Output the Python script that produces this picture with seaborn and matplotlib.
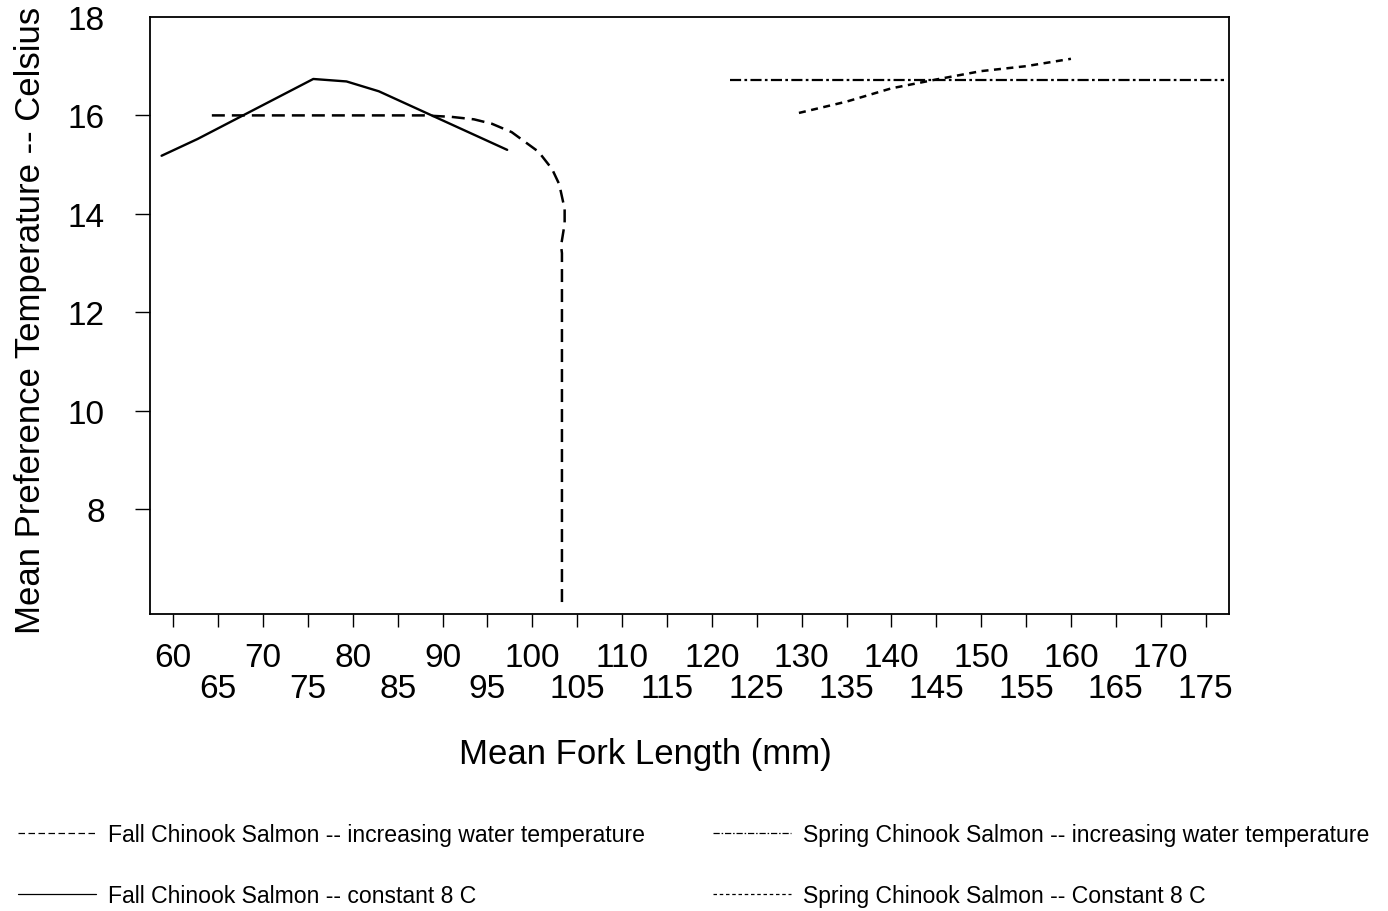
import matplotlib
matplotlib.use("Agg")
import matplotlib.pyplot as plt
import pandas as pd
import seaborn as sns

# Mean fork length (mm) vs. mean preferred temperature (deg C)
fall_inc_len = [64.3, 88.0, 91.0, 93.5, 95.5, 97.7, 100.7, 102.2, 103.0, 103.6, 103.6, 103.2, 103.3, 103.3]
fall_inc_temp = [16.0, 16.0, 15.97, 15.92, 15.83, 15.66, 15.26, 14.91, 14.6, 14.1, 13.8, 13.35, 13.2, 6.1]

fall_const_len = [58.7, 62.7, 75.6, 79.3, 82.9, 97.2]
fall_const_temp = [15.18, 15.52, 16.74, 16.69, 16.49, 15.3]

spring_inc_len = [122.0, 177.0]
spring_inc_temp = [16.72, 16.72]

spring_const_len = [129.7, 135.0, 140.0, 145.0, 150.0, 155.0, 160.0]
spring_const_temp = [16.05, 16.28, 16.55, 16.73, 16.9, 17.0, 17.15]

series_labels = [
    "Fall Chinook Salmon -- increasing water temperature",
    "Fall Chinook Salmon -- constant 8 C",
    "Spring Chinook Salmon -- increasing water temperature",
    "Spring Chinook Salmon -- Constant 8 C",
]

x_major = list(range(60, 171, 10))
x_minor = list(range(65, 176, 10))
y_major = [8, 10, 12, 14, 16]
y_top = [18]

sns.set_theme(style="ticks")
plt.rcParams["font.family"] = ["Liberation Sans", "DejaVu Sans"]
plt.rcParams["text.color"] = "black"
plt.rcParams["axes.labelcolor"] = "black"

fig = plt.figure(figsize=(13.88, 9.12), dpi=100)
ax = fig.add_axes([0.108, 0.3257, 0.7774, 0.6546])

series = [
    (fall_inc_len, fall_inc_temp, dict(lw=1.8, dashes=(5.2, 2.8))),
    (fall_const_len, fall_const_temp, dict(lw=1.7, linestyle="-")),
    (spring_inc_len, spring_inc_temp, dict(lw=1.6, dashes=(5, 1.5, 1.2, 1.5))),
    (spring_const_len, spring_const_temp, dict(lw=1.8, dashes=(2.8, 2.2))),
]

for (xs, ys, style), lab in zip(series, series_labels):
    df = pd.DataFrame({"length": xs, "temp": ys})
    sns.lineplot(data=df, x="length", y="temp", sort=False, estimator=None,
                 color="black", label=lab, legend=False, ax=ax, **style)

ax.set_xlim(57.4, 177.6)
ax.set_ylim(5.87, 18.0)

for sp in ax.spines.values():
    sp.set_visible(True)
    sp.set_color("black")
    sp.set_linewidth(1.3)

ax.set_xticks(x_major, [str(v) for v in x_major])
ax.set_xticks(x_minor, [str(v) for v in x_minor], minor=True)
ax.set_yticks(y_major, [str(v) for v in y_major])
ax.set_yticks(y_top, [str(v) for v in y_top], minor=True)

ax.tick_params(axis="x", which="both", bottom=True, length=9.5, width=1.0,
               direction="out", labelsize=24, colors="black")
ax.tick_params(axis="x", which="major", pad=11)
ax.tick_params(axis="x", which="minor", pad=33)
ax.tick_params(axis="y", which="major", left=True, length=10.5, width=1.0,
               direction="out", labelsize=24, pad=22, colors="black")
ax.tick_params(axis="y", which="minor", left=True, length=0, labelsize=24,
               pad=32.5, colors="black")

ax.set_xlabel("Mean Fork Length (mm)", fontsize=25, color="black")
ax.xaxis.set_label_coords(0.459, -0.2064)
ax.set_ylabel("Mean Preference Temperature -- Celsius", fontsize=25, color="black")
ax.yaxis.set_label_coords(-0.0955, 0.494)

handles = ax.get_lines()
leg = fig.legend(handles, series_labels, loc="upper left",
                 bbox_to_anchor=(18 / 1388, 1 - 824 / 912), ncol=2,
                 frameon=False, fontsize=16.6, handlelength=3.4,
                 handletextpad=0.5, columnspacing=2.95, labelspacing=1.63,
                 borderpad=0, borderaxespad=0)
for txt in leg.get_texts():
    txt.set_color("black")
for ln in leg.get_lines():
    ln.set_linewidth(0.9)

fig.savefig("out.png", dpi=100, facecolor="white")
